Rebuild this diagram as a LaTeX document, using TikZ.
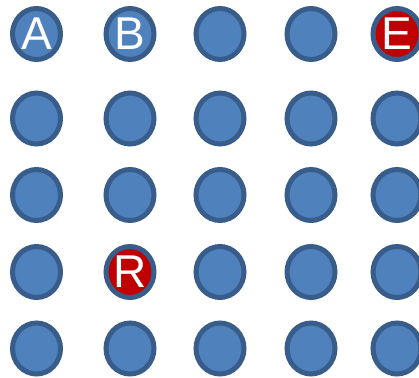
\documentclass[tikz,border=0pt]{standalone}
\usepackage{fontspec}
\setmainfont{Liberation Sans}
\usetikzlibrary{shapes.geometric}

\definecolor{dotblue}{HTML}{4F81BD}
\definecolor{dotedge}{HTML}{385D8A}
\definecolor{dotred}{HTML}{C00000}

\begin{document}
\begin{tikzpicture}[x=1pt, y=-1pt,
  dot/.style={ellipse,draw=dotedge,fill=dotblue,line width=5pt,
    minimum width=48pt,minimum height=51pt,inner sep=0pt,
    text=white,font=\fontsize{46}{46}\selectfont},
  reddot/.style={dot,fill=dotred}]

\useasboundingbox (0,0) rectangle (419,377);

% Row 1
\node[dot] (a) at (36.5,34) {A};
\node[dot] (b) at (130,34) {B};
\node[dot] (n13) at (220,34) {};
\node[dot] (n14) at (311,34) {};
\node[reddot] (e) at (397,34) {E};

% Row 2
\node[dot] (n21) at (36.5,118.5) {};
\node[dot] (n22) at (130,118.5) {};
\node[dot] (n23) at (220,118.5) {};
\node[dot] (n24) at (311,118.5) {};
\node[dot] (n25) at (397,118.5) {};

% Row 3
\node[dot] (n31) at (36.5,195) {};
\node[dot] (n32) at (130,195) {};
\node[dot] (n33) at (220,195) {};
\node[dot] (n34) at (311,195) {};
\node[dot] (n35) at (397,195) {};

% Row 4
\node[dot] (n41) at (36.5,272) {};
\node[reddot] (r) at (130,272) {R};
\node[dot] (n43) at (220,272) {};
\node[dot] (n44) at (311,272) {};
\node[dot] (n45) at (397,272) {};

% Row 5
\node[dot] (n51) at (36.5,348.5) {};
\node[dot] (n52) at (130,348.5) {};
\node[dot] (n53) at (220,348.5) {};
\node[dot] (n54) at (311,348.5) {};
\node[dot] (n55) at (397,348.5) {};

\end{tikzpicture}
\end{document}
